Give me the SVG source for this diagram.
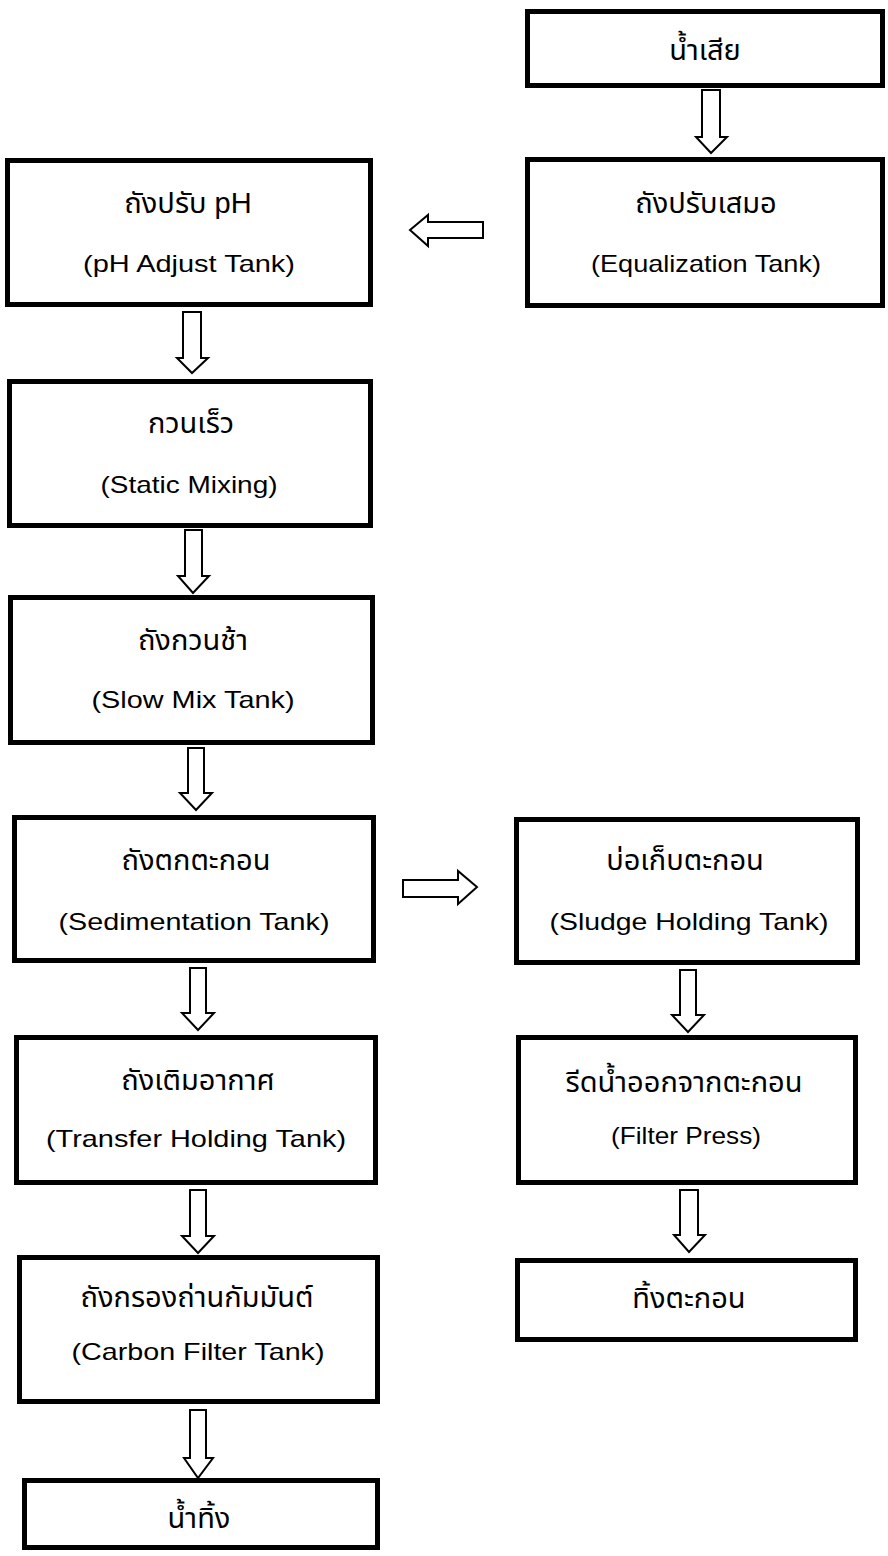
<svg xmlns="http://www.w3.org/2000/svg" width="888" height="1556" viewBox="0 0 888 1556">
<style>
.box{fill:#fff;stroke:#000;stroke-width:5}
.arr{fill:#fff;stroke:#000;stroke-width:2;stroke-linejoin:miter}
text{font-family:"Liberation Sans","Noto Sans Thai","Noto Sans",sans-serif;font-size:24px;fill:#000;text-anchor:middle}
.th{font-size:29px}
</style>
<rect width="888" height="1556" fill="#fff"/>
<g id="connectors">
<polygon class="arr" points="702,90 720,90 720,137 727,137 711,153 696,137 702,137"/>
<polygon class="arr" points="483,222 483,238 428,238 428,246 410,230 428,215 428,222"/>
<polygon class="arr" points="183,312 201,312 201,358 208,358 192,373 177,358 183,358"/>
<polygon class="arr" points="185,530 202,530 202,576 209,576 193,593 178,576 185,576"/>
<polygon class="arr" points="188,748 204,748 204,793 212,793 196,810 180,793 188,793"/>
<polygon class="arr" points="190,968 206,968 206,1013 214,1013 198,1030 182,1013 190,1013"/>
<polygon class="arr" points="190,1190 206,1190 206,1236 214,1236 198,1253 182,1236 190,1236"/>
<polygon class="arr" points="190,1410 206,1410 206,1458 213,1458 198,1478 184,1458 190,1458"/>
<polygon class="arr" points="403,880 458,880 458,871 477,887 458,904 458,897 403,897"/>
<polygon class="arr" points="680,970 696,970 696,1015 704,1015 688,1032 672,1015 680,1015"/>
<polygon class="arr" points="680,1190 698,1190 698,1235 705,1235 689,1252 674,1235 680,1235"/>
</g>
<g id="n-wastewater">
<rect class="box" x="527.5" y="11.5" width="355" height="74"/>
<text class="th" x="705" y="60">น้ำเสีย</text>
</g>
<g id="n-equalization">
<rect class="box" x="527.5" y="159.5" width="355" height="146"/>
<text class="th" x="706" y="213">ถังปรับเสมอ</text>
<text x="706" y="272" textLength="230" lengthAdjust="spacingAndGlyphs">(Equalization Tank)</text>
</g>
<g id="n-ph">
<rect class="box" x="7.5" y="160.5" width="363" height="144"/>
<text class="th" x="188" y="213">ถังปรับ pH</text>
<text x="189" y="272" textLength="212" lengthAdjust="spacingAndGlyphs">(pH Adjust Tank)</text>
</g>
<g id="n-static">
<rect class="box" x="9.5" y="381.5" width="361" height="144"/>
<text class="th" x="191" y="433">กวนเร็ว</text>
<text x="189" y="493" textLength="177" lengthAdjust="spacingAndGlyphs">(Static Mixing)</text>
</g>
<g id="n-slowmix">
<rect class="box" x="10.5" y="597.5" width="362" height="145"/>
<text class="th" x="193" y="650">ถังกวนช้า</text>
<text x="193" y="708" textLength="203" lengthAdjust="spacingAndGlyphs">(Slow Mix Tank)</text>
</g>
<g id="n-sedimentation">
<rect class="box" x="14.5" y="817.5" width="359" height="143"/>
<text class="th" x="196" y="870">ถังตกตะกอน</text>
<text x="194" y="930" textLength="271" lengthAdjust="spacingAndGlyphs">(Sedimentation Tank)</text>
</g>
<g id="n-sludge">
<rect class="box" x="516.5" y="819.5" width="341" height="143"/>
<text class="th" x="685" y="870">บ่อเก็บตะกอน</text>
<text x="689" y="930" textLength="279" lengthAdjust="spacingAndGlyphs">(Sludge Holding Tank)</text>
</g>
<g id="n-transfer">
<rect class="box" x="16.5" y="1037.5" width="359" height="145"/>
<text class="th" x="198" y="1090">ถังเติมอากาศ</text>
<text x="196" y="1147" textLength="300" lengthAdjust="spacingAndGlyphs">(Transfer Holding Tank)</text>
</g>
<g id="n-filterpress">
<rect class="box" x="518.5" y="1037.5" width="337" height="145"/>
<text class="th" x="684" y="1092">รีดน้ำออกจากตะกอน</text>
<text x="686" y="1144" textLength="150" lengthAdjust="spacingAndGlyphs">(Filter Press)</text>
</g>
<g id="n-carbon">
<rect class="box" x="19.5" y="1257.5" width="358" height="144"/>
<text class="th" x="197" y="1307">ถังกรองถ่านกัมมันต์</text>
<text x="198" y="1360" textLength="253" lengthAdjust="spacingAndGlyphs">(Carbon Filter Tank)</text>
</g>
<g id="n-effluent">
<rect class="box" x="24.5" y="1480.5" width="353" height="67"/>
<text class="th" x="199" y="1528">น้ำทิ้ง</text>
</g>
<g id="n-disposal">
<rect class="box" x="517.5" y="1260.5" width="338" height="79"/>
<text class="th" x="689" y="1308">ทิ้งตะกอน</text>
</g>
</svg>
